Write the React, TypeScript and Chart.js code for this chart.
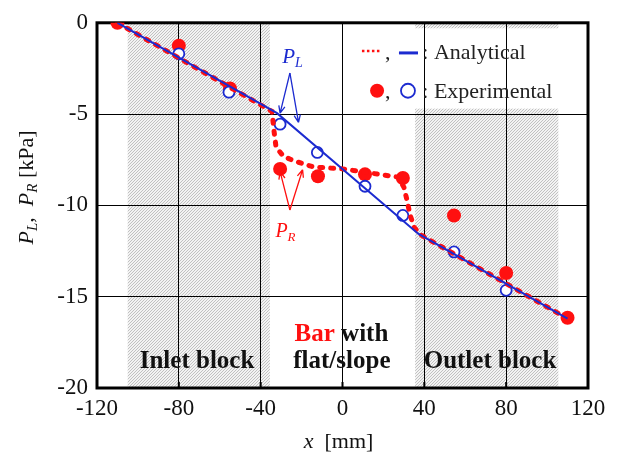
import React, { useEffect, useRef } from "react";
import { Chart, registerables } from "chart.js";

Chart.register(...registerables);

const W = 617;
const H = 457;
const SERIF = "'Liberation Serif', 'DejaVu Serif', 'Times New Roman', serif";
const RED = "#ff1010";
const BLUE = "#1c2bd0";

// Axis ticks
const xTicks = [-120, -80, -40, 0, 40, 80, 120];
const yTicks = [0, -5, -10, -15, -20];

// Hatched blocks (x ranges, mm)
const blockInlet = [-105, -35.5];
const blockOutlet = [35.5, 105.5];

// Analytical P_L (blue solid)
const anaLX = [-110, -32, 37, 110];
const anaLY = [0, -4.95, -11.55, -16.2];

// Analytical P_R (red dotted)
const anaRX = [-110, -34.5, -33.5, -32.5, -29, -24, -14, 0, 15, 27, 30, 31.5, 33, 35, 38, 110];
const anaRY = [0, -4.85, -5.9, -6.8, -7.3, -7.55, -7.9, -8.0, -8.25, -8.45, -9.0, -9.7, -10.5, -11.2, -11.6, -16.2];

// Experimental P_L (blue open circles)
const expLX = [-80, -55.5, -30.5, -12.3, 11, 29.5, 54.5, 80];
const expLY = [-1.7, -3.8, -5.55, -7.1, -8.95, -10.55, -12.55, -14.65];

// Experimental P_R (red filled circles)
const expRX = [-110, -80, -55, -30.5, -12, 11, 29.5, 54.5, 80, 110];
const expRY = [0, -1.25, -3.6, -8.0, -8.4, -8.3, -8.5, -10.55, -13.7, -16.15];

const pts = (xs: number[], ys: number[]) => xs.map((x, i) => ({ x, y: ys[i] }));

type Part = { t: string; font: string; color: string; dy?: number };

function drawParts(ctx: CanvasRenderingContext2D, parts: Part[], x: number, y: number, align: "left" | "center" = "left") {
  ctx.textAlign = "left";
  ctx.textBaseline = "alphabetic";
  let total = 0;
  for (const p of parts) {
    ctx.font = p.font;
    total += ctx.measureText(p.t).width;
  }
  let cx = align === "center" ? x - total / 2 : x;
  for (const p of parts) {
    ctx.font = p.font;
    ctx.fillStyle = p.color;
    ctx.fillText(p.t, cx, y + (p.dy || 0));
    cx += ctx.measureText(p.t).width;
  }
}

function arrow(ctx: CanvasRenderingContext2D, x1: number, y1: number, x2: number, y2: number, color: string) {
  const ang = Math.atan2(y2 - y1, x2 - x1);
  const hl = 8;
  ctx.save();
  ctx.strokeStyle = color;
  ctx.lineWidth = 1.3;
  ctx.beginPath();
  ctx.moveTo(x1, y1);
  ctx.lineTo(x2, y2);
  ctx.moveTo(x2, y2);
  ctx.lineTo(x2 - hl * Math.cos(ang - 0.4), y2 - hl * Math.sin(ang - 0.4));
  ctx.moveTo(x2, y2);
  ctx.lineTo(x2 - hl * Math.cos(ang + 0.4), y2 - hl * Math.sin(ang + 0.4));
  ctx.stroke();
  ctx.restore();
}

function makePattern(ctx: CanvasRenderingContext2D) {
  const pc = document.createElement("canvas");
  pc.width = 3;
  pc.height = 3;
  const g = pc.getContext("2d")!;
  g.fillStyle = "#f3f3f3";
  g.fillRect(0, 0, 3, 3);
  g.strokeStyle = "#b4b4b4";
  g.lineWidth = 0.8;
  g.beginPath();
  g.moveTo(-1, 4);
  g.lineTo(4, -1);
  g.moveTo(-1, 1);
  g.lineTo(1, -1);
  g.moveTo(2, 4);
  g.lineTo(4, 2);
  g.stroke();
  return ctx.createPattern(pc, "repeat")!;
}

const figPlugin = {
  id: "figPlugin",
  beforeDraw(chart: any) {
    const { ctx, chartArea: a, scales } = chart;
    const sx = scales.x, sy = scales.y;
    ctx.save();
    ctx.fillStyle = makePattern(ctx);
    for (const b of [blockInlet, blockOutlet]) {
      const l = sx.getPixelForValue(b[0]);
      const r = sx.getPixelForValue(b[1]);
      ctx.fillRect(l, a.top, r - l, a.bottom - a.top);
    }
    // legend white box
    ctx.fillStyle = "#ffffff";
    const l = sx.getPixelForValue(30);
    const r = sx.getPixelForValue(106);
    const t = sy.getPixelForValue(-0.3);
    const b = sy.getPixelForValue(-4.7);
    ctx.fillRect(l, t, r - l, b - t);
    ctx.restore();
  },
  beforeDatasetsDraw(chart: any) {
    const { ctx, chartArea: a, scales } = chart;
    ctx.save();
    ctx.strokeStyle = "#000";
    ctx.lineWidth = 3;
    ctx.strokeRect(a.left, a.top, a.right - a.left, a.bottom - a.top);
    ctx.lineWidth = 2;
    ctx.beginPath();
    for (const v of xTicks) {
      const p = scales.x.getPixelForValue(v);
      ctx.moveTo(p, a.bottom);
      ctx.lineTo(p, a.bottom - 6);
    }
    ctx.stroke();
    ctx.restore();
  },
  afterDatasetsDraw(chart: any) {
    const { ctx, chartArea: a, scales } = chart;
    const px = (v: number) => scales.x.getPixelForValue(v);
    const py = (v: number) => scales.y.getPixelForValue(v);
    ctx.save();

    // P_L annotation
    arrow(ctx, px(-25.7), py(-2.75), px(-30.5), py(-4.95), BLUE);
    arrow(ctx, px(-25.7), py(-2.75), px(-21.5), py(-5.45), BLUE);
    drawParts(ctx, [
      { t: "P", font: `italic 21px ${SERIF}`, color: BLUE },
      { t: "L", font: `italic 14px ${SERIF}`, color: BLUE, dy: 4 },
    ], px(-29.5), py(-2.2));

    // P_R annotation
    arrow(ctx, px(-25.7), py(-10.25), px(-30.5), py(-8.15), RED);
    arrow(ctx, px(-25.7), py(-10.25), px(-19.5), py(-8.05), RED);
    drawParts(ctx, [
      { t: "P", font: `italic 20px ${SERIF}`, color: RED },
      { t: "R", font: `italic 13px ${SERIF}`, color: RED, dy: 4 },
    ], px(-32.8), py(-11.75));

    // Region labels
    const bold = `bold 25px ${SERIF}`;
    drawParts(ctx, [{ t: "Inlet block", font: bold, color: "#111" }], px(-71.1), py(-18.9), "center");
    drawParts(ctx, [{ t: "Outlet block", font: bold, color: "#111" }], px(72.1), py(-18.9), "center");
    drawParts(ctx, [
      { t: "Bar", font: bold, color: RED },
      { t: " with", font: bold, color: "#111" },
    ], px(-0.5), py(-17.45), "center");
    drawParts(ctx, [{ t: "flat/slope", font: bold, color: "#111" }], px(-0.3), py(-18.9), "center");

    // Legend
    const lf = `22px ${SERIF}`;
    ctx.strokeStyle = RED;
    ctx.lineWidth = 2.5;
    ctx.setLineDash([2.5, 2.5]);
    ctx.beginPath();
    ctx.moveTo(px(9.5), py(-1.55));
    ctx.lineTo(px(18.5), py(-1.55));
    ctx.stroke();
    ctx.setLineDash([]);
    ctx.strokeStyle = BLUE;
    ctx.lineWidth = 3;
    ctx.beginPath();
    ctx.moveTo(px(27.6), py(-1.65));
    ctx.lineTo(px(36.9), py(-1.65));
    ctx.stroke();
    drawParts(ctx, [{ t: ",", font: lf, color: "#222" }], px(20.8), py(-1.97));
    drawParts(ctx, [{ t: ": Analytical", font: lf, color: "#222" }], px(39.0), py(-1.97));

    ctx.fillStyle = RED;
    ctx.beginPath();
    ctx.arc(px(16.9), py(-3.72), 7, 0, Math.PI * 2);
    ctx.fill();
    ctx.strokeStyle = BLUE;
    ctx.lineWidth = 1.8;
    ctx.beginPath();
    ctx.arc(px(32.0), py(-3.72), 7, 0, Math.PI * 2);
    ctx.stroke();
    drawParts(ctx, [{ t: ",", font: lf, color: "#222" }], px(20.8), py(-4.1));
    drawParts(ctx, [{ t: ": Experimental", font: lf, color: "#222" }], px(39.0), py(-4.1));

    // X axis title
    drawParts(ctx, [
      { t: "x", font: `italic 22px ${SERIF}`, color: "#111" },
      { t: "  [mm]", font: `22px ${SERIF}`, color: "#111" },
    ], (a.left + a.right) / 2 - 4, a.bottom + 60, "center");

    // Y axis title (rotated)
    ctx.save();
    ctx.translate(a.left - 72, (a.top + a.bottom) / 2 - 18);
    ctx.rotate(-Math.PI / 2);
    drawParts(ctx, [
      { t: "P", font: `italic 22px ${SERIF}`, color: "#111" },
      { t: "L", font: `italic 15px ${SERIF}`, color: "#111", dy: 4 },
      { t: ",  ", font: `22px ${SERIF}`, color: "#111" },
      { t: "P", font: `italic 22px ${SERIF}`, color: "#111" },
      { t: "R", font: `italic 15px ${SERIF}`, color: "#111", dy: 4 },
      { t: " [kPa]", font: `22px ${SERIF}`, color: "#111" },
    ], 0, 8, "center");
    ctx.restore();

    ctx.restore();
  },
};

export default function App() {
  const ref = useRef<HTMLCanvasElement | null>(null);
  useEffect(() => {
    const canvas = ref.current!;
    const tickFont = { family: SERIF, size: 23 };
    const chart = new Chart(canvas, {
      type: "scatter",
      data: {
        datasets: [
          { data: pts(anaLX, anaLY), showLine: true, borderColor: BLUE, borderWidth: 2, pointRadius: 0, fill: false },
          { data: pts(anaRX, anaRY), showLine: true, borderColor: RED, borderWidth: 5, borderDash: [3, 8], borderCapStyle: "round", pointRadius: 0, fill: false },
          { data: pts(expLX, expLY), showLine: false, pointRadius: 5.5, pointBorderWidth: 1.8, pointBackgroundColor: "#ffffff", pointBorderColor: BLUE },
          { data: pts(expRX, expRY), showLine: false, pointRadius: 7, pointBorderWidth: 0, pointBackgroundColor: RED, pointBorderColor: RED },
        ],
      } as any,
      options: {
        animation: false,
        responsive: false,
        maintainAspectRatio: false,
        layout: { padding: { left: 0, right: 29, top: 22, bottom: 0 } },
        plugins: { legend: { display: false }, tooltip: { enabled: false } },
        scales: {
          x: {
            type: "linear",
            min: -120,
            max: 120,
            afterBuildTicks: (s: any) => { s.ticks = xTicks.map((v) => ({ value: v })); },
            afterFit: (s: any) => { s.height = 69; },
            grid: { color: "#000", lineWidth: 1, drawTicks: false },
            border: { display: false },
            ticks: { font: tickFont, color: "#111", padding: 7, maxRotation: 0, autoSkip: false },
          },
          y: {
            type: "linear",
            min: -20,
            max: 0,
            afterBuildTicks: (s: any) => { s.ticks = yTicks.map((v) => ({ value: v })); },
            afterFit: (s: any) => { s.width = 97; },
            grid: { color: "#000", lineWidth: 1, drawTicks: false },
            border: { display: false },
            ticks: { font: tickFont, color: "#111", padding: 9, autoSkip: false },
          },
        },
      } as any,
      plugins: [figPlugin],
    });
    return () => chart.destroy();
  }, []);
  return (
    <div style={{ position: "fixed", left: 0, top: 0, width: W, height: H, background: "#fff" }}>
      <canvas ref={ref} width={W} height={H} style={{ display: "block", width: W, height: H }} />
    </div>
  );
}
